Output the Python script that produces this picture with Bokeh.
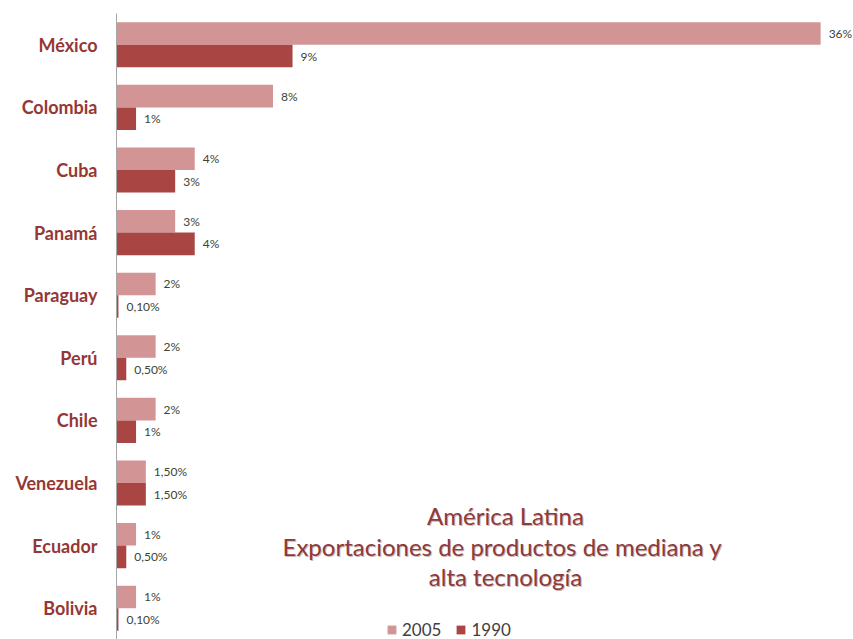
from bokeh.plotting import figure
from bokeh.models import ColumnDataSource, LabelSet, Label, Legend, LegendItem, FactorRange
from bokeh.transform import dodge
from bokeh.core.properties import value
from bokeh.embed import file_html
from bokeh.resources import INLINE

countries = ["México", "Colombia", "Cuba", "Panamá", "Paraguay", "Perú",
             "Chile", "Venezuela", "Ecuador", "Bolivia"]
v2005 = [36, 8, 4, 3, 2, 2, 2, 1.5, 1, 1]
v1990 = [9, 1, 3, 4, 0.1, 0.5, 1, 1.5, 0.5, 0.1]
lab2005 = ["36%", "8%", "4%", "3%", "2%", "2%", "2%", "1,50%", "1%", "1%"]
lab1990 = ["9%", "1%", "3%", "4%", "0,10%", "0,50%", "1%", "1,50%", "0,50%", "0,10%"]
title_lines = ["América Latina", "Exportaciones de productos  de mediana y", "alta tecnología"]
series_names = ["2005", "1990"]

C2005 = "#D29494"
C1990 = "#A94644"
CAT = "#953735"
FONT = "Lato"

src = ColumnDataSource(dict(country=countries, v2005=v2005, v1990=v1990,
                            lab2005=lab2005, lab1990=lab1990))

W, H = 853, 639
LEFT, TOP = 116, 13
p = figure(width=W, height=H, y_range=FactorRange(*reversed(countries), range_padding=0),
           x_range=(0, 37.68), output_backend="svg", toolbar_location=None,
           min_border_left=LEFT, min_border_right=0, min_border_top=TOP, min_border_bottom=0)
p.outline_line_color = None
p.background_fill_color = "white"
p.border_fill_color = "white"
p.xgrid.visible = False
p.ygrid.visible = False
p.xaxis.visible = False

yax = p.yaxis[0]
yax.axis_line_color = "#A6A6A6"
yax.axis_line_width = 1
yax.major_tick_line_color = None
yax.minor_tick_line_color = None
yax.major_label_text_font = FONT
yax.major_label_text_font_style = "bold"
yax.major_label_text_font_size = "18px"
yax.major_label_text_color = CAT
yax.major_label_standoff = 13

bw = 0.36
r1 = p.hbar(y=dodge("country", 0.18, range=p.y_range), right="v2005", left=0, height=bw,
            source=src, fill_color=C2005, line_color=None)
r2 = p.hbar(y=dodge("country", -0.18, range=p.y_range), right="v1990", left=0, height=bw,
            source=src, fill_color=C1990, line_color=None)

for col, lab, off in [("v2005", "lab2005", 0.18), ("v1990", "lab1990", -0.18)]:
    ls = LabelSet(x=col, y=dodge("country", off, range=p.y_range), text=lab, source=src,
                  x_offset=8, text_font=value(FONT), text_font_size=value("12px"),
                  text_color=value("#3C4436"),
                  text_baseline=value("middle"), text_align=value("left"))
    p.add_layout(ls)

frame_bottom = H
ys = [515, 546, 576]
cx = 505 - LEFT
for t, y in zip(title_lines, ys):
    p.add_layout(Label(x=cx + 1, y=frame_bottom - y - 1, x_units="screen", y_units="screen", text=t,
                       text_font=FONT, text_font_size="24px", text_color="#CDB8B8",
                       text_align="center", text_baseline="middle"))
    p.add_layout(Label(x=cx, y=frame_bottom - y, x_units="screen", y_units="screen", text=t,
                       text_font=FONT, text_font_size="24px", text_color="#8E3A38",
                       text_align="center", text_baseline="middle"))

legend = Legend(items=[LegendItem(label=series_names[0], renderers=[r1]),
                       LegendItem(label=series_names[1], renderers=[r2])],
                orientation="horizontal", location=(270, -1),
                label_text_font=FONT, label_text_font_size="17px", label_text_color="#404040",
                glyph_width=11, glyph_height=11, spacing=14, label_standoff=5,
                background_fill_alpha=0, border_line_color=None, padding=2, margin=0)
p.add_layout(legend)

open("out.html", "w").write(file_html(p, INLINE))
